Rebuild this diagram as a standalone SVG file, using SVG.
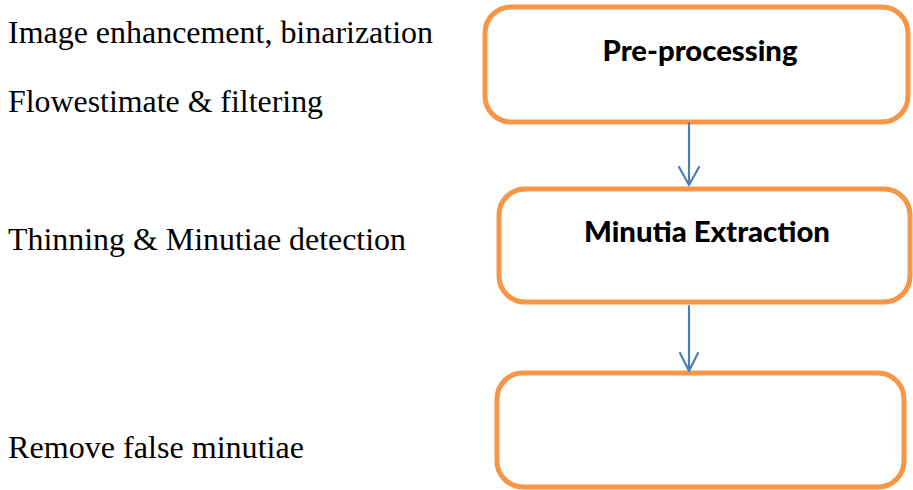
<svg xmlns="http://www.w3.org/2000/svg" width="913" height="490" viewBox="0 0 913 490">
<style>
.box{fill:#fff;stroke:#F79646;stroke-width:5}
.lbl{font-family:Lato,"Open Sans","Liberation Sans",sans-serif;font-weight:900;font-size:28px;fill:#000;text-anchor:middle}
.side{font-family:"Liberation Serif","Times New Roman",serif;font-size:32px;fill:#000}
.conn{fill:none;stroke:#4A7EBB;stroke-width:2.2;stroke-linecap:round;stroke-linejoin:round}
</style>
<rect width="913" height="490" fill="#fff"/>
<g id="side-labels">
<text class="side" x="8" y="43" textLength="425" lengthAdjust="spacingAndGlyphs">Image enhancement, binarization</text>
<text class="side" x="8" y="112" textLength="315" lengthAdjust="spacingAndGlyphs">Flowestimate &amp; filtering</text>
<text class="side" x="8" y="250" textLength="398" lengthAdjust="spacingAndGlyphs">Thinning &amp; Minutiae detection</text>
<text class="side" x="8" y="458" textLength="296" lengthAdjust="spacingAndGlyphs">Remove false minutiae</text>
</g>
<g id="node-preprocessing">
<rect class="box" x="485" y="7" width="423" height="115" rx="26"/>
<text class="lbl" x="700" y="61" textLength="195" lengthAdjust="spacingAndGlyphs">Pre-processing</text>
</g>
<g id="node-minutia-extraction">
<rect class="box" x="499" y="189" width="411" height="113" rx="26"/>
<text class="lbl" x="707" y="242" textLength="246" lengthAdjust="spacingAndGlyphs">Minutia Extraction</text>
</g>
<g id="node-empty">
<rect class="box" x="497" y="373" width="407" height="114" rx="26"/>
</g>
<g id="connectors">
<path class="conn" d="M689 123 V185 M679 167 L689 185 L699 167"/>
<path class="conn" d="M689 306 V371 M680 353 L689 371 L698 353"/>
</g>
</svg>
